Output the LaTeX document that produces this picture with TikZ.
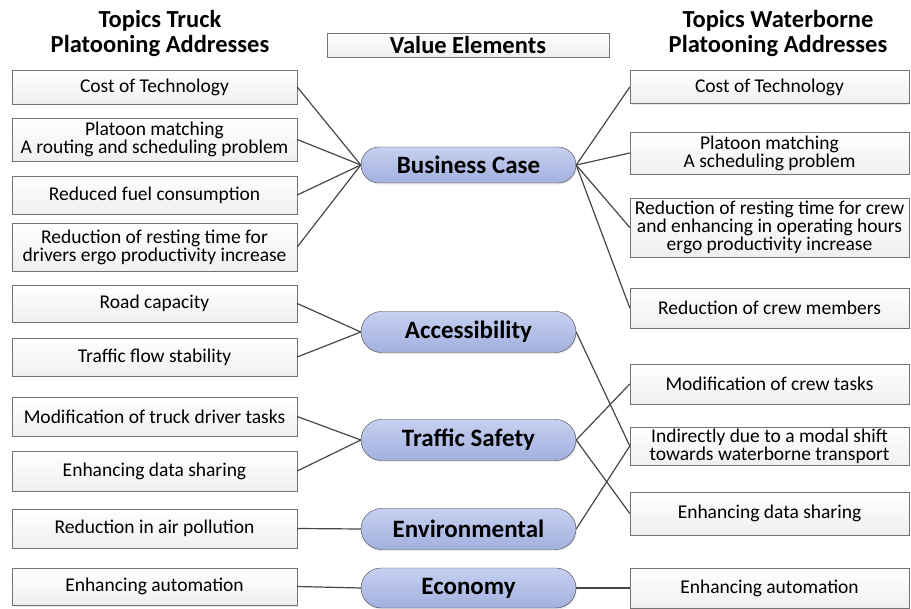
\documentclass[tikz,border=0pt]{standalone}
\usepackage{fontspec}
\setmainfont{Carlito}
\usetikzlibrary{shapes.misc,shadows}

\definecolor{ovalblue}{RGB}{162,176,222}
\definecolor{ovaltop}{RGB}{198,208,240}
\definecolor{boxline}{RGB}{115,115,115}

\tikzset{
  topic/.style={draw=boxline,rectangle,top color=white,bottom color=gray!12,
    drop shadow={shadow xshift=1.2pt,shadow yshift=-1.5pt,fill=gray!35},
    align=center,inner sep=0pt,font=\fontsize{19.5}{18}\selectfont},
  value/.style={draw=gray!55!black,rounded rectangle,top color=ovaltop,bottom color=ovalblue,
    drop shadow={shadow xshift=1pt,shadow yshift=-1.5pt,fill=gray!35},
    minimum width=215pt,inner sep=0pt,font=\fontsize{25}{26}\bfseries\selectfont},
  heading/.style={align=center,font=\fontsize{24.5}{25}\bfseries\selectfont},
  link/.style={draw=black!72,line width=1.2pt}
}

\begin{document}
\begin{tikzpicture}[x=1pt,y=-1pt]
        \useasboundingbox (0,0) rectangle (911,609) ;
        % headings
        \node[heading] (lhead) at (160,33) {Topics Truck\\Platooning Addresses} ;
        \node[heading] (rhead) at (778,33) {Topics Waterborne\\Platooning Addresses} ;
        \node[topic,minimum width=282pt,minimum height=24pt,font=\fontsize{24.5}{25}\bfseries\selectfont]
        (velem) at (468,45) {Value Elements} ;
        % value elements
        \node[value,minimum height=36pt] (bc) at (468.5,165) {Business Case} ;
        \node[value,minimum height=41pt] (acc) at (468.5,332) {Accessibility} ;
        \node[value,minimum height=41pt] (ts) at (468.5,440) {Traffic Safety} ;
        \node[value,minimum height=41pt] (env) at (468.5,529) {Environmental} ;
        \node[value,minimum height=40pt] (eco) at (468.5,588) {Economy} ;
        % truck topics
        \node[topic,minimum width=285pt,minimum height=34pt] (lt1) at (154.5,87) {Cost of Technology} ;
        \node[topic,minimum width=285pt,minimum height=43pt] (lt2) at (154.5,139.5) {Platoon matching\\A routing and scheduling problem} ;
        \node[topic,minimum width=285pt,minimum height=38pt] (lt3) at (154.5,195) {Reduced fuel consumption} ;
        \node[topic,minimum width=285pt,minimum height=48pt] (lt4) at (154.5,247) {Reduction of resting time for\\drivers ergo productivity increase} ;
        \node[topic,minimum width=285pt,minimum height=37pt] (lt5) at (154.5,303.5) {Road capacity} ;
        \node[topic,minimum width=285pt,minimum height=38pt] (lt6) at (154.5,357) {Traffic flow stability} ;
        \node[topic,minimum width=285pt,minimum height=39pt] (lt7) at (154.5,416.5) {Modification of truck driver tasks} ;
        \node[topic,minimum width=285pt,minimum height=40pt] (lt8) at (154.5,471) {Enhancing data sharing} ;
        \node[topic,minimum width=285pt,minimum height=39pt] (lt9) at (154.5,528.5) {Reduction in air pollution} ;
        \node[topic,minimum width=285pt,minimum height=37pt] (lt10) at (154.5,586.5) {Enhancing automation} ;
        % waterborne topics
        \node[topic,minimum width=279pt,minimum height=33pt] (rt1) at (769.5,87) {Cost of Technology} ;
        \node[topic,minimum width=279pt,minimum height=42pt] (rt2) at (769.5,153) {Platoon matching\\A scheduling problem} ;
        \node[topic,minimum width=279pt,minimum height=59pt] (rt3) at (769.5,227.5) {Reduction of resting time for crew\\and enhancing in operating hours\\ergo productivity increase} ;
        \node[topic,minimum width=279pt,minimum height=40pt] (rt4) at (769.5,308) {Reduction of crew members} ;
        \node[topic,minimum width=279pt,minimum height=40pt] (rt5) at (769.5,384) {Modification of crew tasks} ;
        \node[topic,minimum width=279pt,minimum height=38pt] (rt6) at (769.5,446) {Indirectly due to a modal shift\\towards waterborne transport} ;
        \node[topic,minimum width=279pt,minimum height=43pt] (rt7) at (769.5,513.5) {Enhancing data sharing} ;
        \node[topic,minimum width=279pt,minimum height=40pt] (rt8) at (769.5,588) {Enhancing automation} ;
        % links
        \draw[link] (lt1.east) -- (bc.west) ;
        \draw[link] (lt2.east) -- (bc.west) ;
        \draw[link] (lt3.east) -- (bc.west) ;
        \draw[link] (lt4.east) -- (bc.west) ;
        \draw[link] (lt5.east) -- (acc.west) ;
        \draw[link] (lt6.east) -- (acc.west) ;
        \draw[link] (lt7.east) -- (ts.west) ;
        \draw[link] (lt8.east) -- (ts.west) ;
        \draw[link] (lt9.east) -- (env.west) ;
        \draw[link] (lt10.east) -- (eco.west) ;
        \draw[link] (bc.east) -- (rt1.west) ;
        \draw[link] (bc.east) -- (rt2.west) ;
        \draw[link] (bc.east) -- (rt3.west) ;
        \draw[link] (bc.east) -- (rt4.west) ;
        \draw[link] (acc.east) -- (rt6.west) ;
        \draw[link] (ts.east) -- (rt5.west) ;
        \draw[link] (ts.east) -- (rt7.west) ;
        \draw[link] (env.east) -- (rt6.west) ;
        \draw[link] (eco.east) -- (rt8.west) ;
      \end{tikzpicture}
\end{document}
